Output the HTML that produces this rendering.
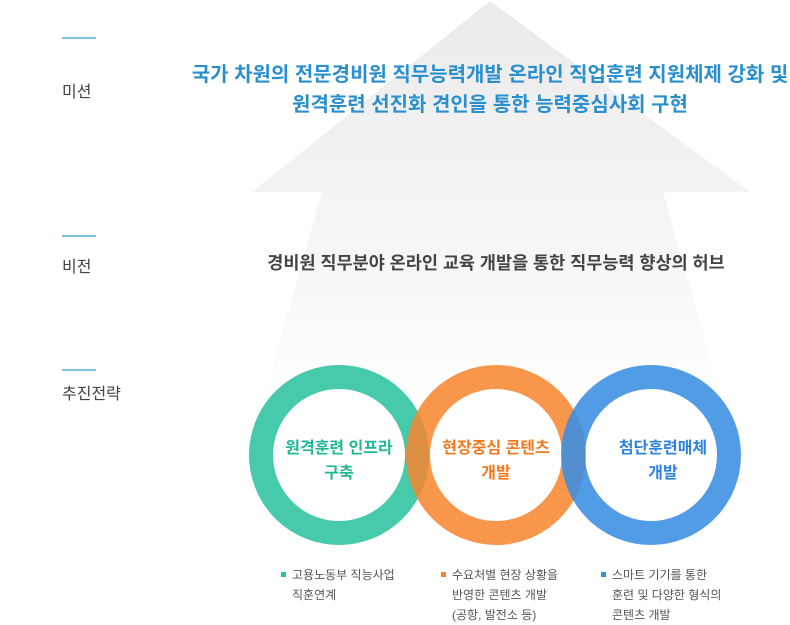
<!DOCTYPE html>
<html><head><meta charset="utf-8"><style>
body{margin:0;width:790px;height:622px;background:#fff;overflow:hidden;font-family:"Liberation Sans","Noto Sans CJK KR",sans-serif;}
.t{position:absolute;white-space:nowrap}
</style></head><body>
<svg width="790" height="622" style="position:absolute;left:0;top:0">
<defs>
<linearGradient id="g" x1="0" y1="0" x2="0" y2="1">
<stop offset="0" stop-color="#ebebeb"/><stop offset="0.5" stop-color="#f3f3f3"/><stop offset="1" stop-color="#ffffff"/>
</linearGradient>
</defs>
<polygon points="490,1 750,192 663,192 722,400 263,400 322,192 252,192" fill="url(#g)"/>
<g stroke="#5aa8dc" stroke-width="1.5">
<line x1="62" y1="38" x2="96" y2="38"/><line x1="62" y1="236" x2="96" y2="236"/><line x1="62" y1="370" x2="96" y2="370"/>
</g>
<g fill="none" stroke-width="24">
<circle cx="339" cy="455" r="78" stroke="#2ec1a0" opacity="0.88"/>
<circle cx="496" cy="455" r="78" stroke="#f7852d" opacity="0.85"/>
<circle cx="651" cy="455" r="78" stroke="#3a8ee2" opacity="0.88"/>
</g>
<rect x="281" y="572" width="5" height="5" fill="#2ec1a0"/>
<rect x="441" y="572" width="5" height="5" fill="#f7852d"/>
<rect x="601" y="572" width="5" height="5" fill="#3a8ee2"/>
</svg>
<div class="t" style="left:62px;top:78px;font-size:16px;color:#444">미션</div>
<div class="t" style="left:62px;top:253px;font-size:16px;color:#444">비전</div>
<div class="t" style="left:62px;top:380px;font-size:16px;color:#444">추진전략</div>
<div class="t" style="left:170px;top:60px;width:640px;text-align:center;font-size:20px;line-height:30px;color:#2a8fcf;font-weight:bold">국가 차원의 전문경비원 직무능력개발 온라인 직업훈련 지원체제 강화 및<br>원격훈련 선진화 견인을 통한 능력중심사회 구현</div>
<div class="t" style="left:236px;top:250px;width:520px;text-align:center;font-size:17.5px;color:#444;font-weight:bold">경비원 직무분야 온라인 교육 개발을 통한 직무능력 향상의 허브</div>
<div class="t" style="left:257px;top:436px;width:164px;text-align:center;font-size:16px;line-height:25px;color:#22b894;font-weight:bold">원격훈련 인프라<br>구축</div>
<div class="t" style="left:414px;top:436px;width:164px;text-align:center;font-size:16px;line-height:25px;color:#f37a20;font-weight:bold">현장중심 콘텐츠<br>개발</div>
<div class="t" style="left:581px;top:436px;width:164px;text-align:center;font-size:16px;line-height:25px;color:#2d84de;font-weight:bold">첨단훈련매체<br>개발</div>
<div class="t" style="left:292px;top:565px;font-size:12px;line-height:20px;color:#555">고용노동부 직능사업<br>직훈연계</div>
<div class="t" style="left:452px;top:565px;font-size:12px;line-height:20px;color:#555">수요처별 현장 상황을<br>반영한 콘텐츠 개발<br>(공항, 발전소 등)</div>
<div class="t" style="left:612px;top:565px;font-size:12px;line-height:20px;color:#555">스마트 기기를 통한<br>훈련 및 다양한 형식의<br>콘텐츠 개발</div>
</body></html>
